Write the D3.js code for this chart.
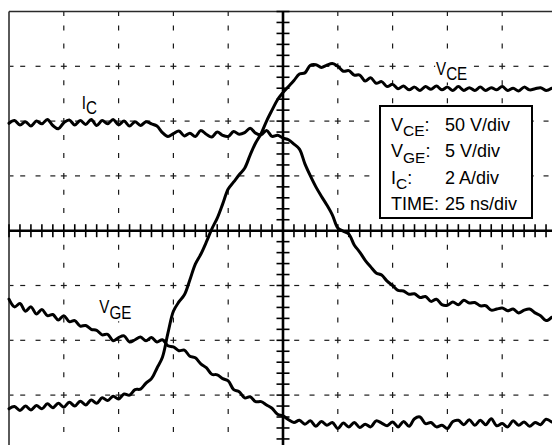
<!DOCTYPE html>
<html>
<head>
<meta charset="utf-8">
<script src="https://cdn.jsdelivr.net/npm/d3@7"></script>
<style>
  html, body { margin: 0; padding: 0; background: #fff; }
  svg { display: block; }
  text { font-family: "Liberation Sans", Arial, Helvetica, sans-serif; fill: #000; }
</style>
</head>
<body>
<svg id="chart" width="552" height="445"></svg>
<script>
// Switching waveform capture: time in ns, traces in screen divisions (centre = 0)
const timeStartNs = -125;
const timeStepNs = 2.5;

const vce = [
  -3.25, -3.21, -3.28, -3.20, -3.27, -3.19, -3.25, -3.16, -3.23, -3.15,
  -3.22, -3.13, -3.20, -3.11, -3.18, -3.09, -3.15, -3.05, -3.10, -3.02,
  -3.07, -2.98, -3.00, -2.90, -2.89, -2.78, -2.70, -2.51, -2.31, -1.87,
  -1.47, -1.30, -1.17, -0.90, -0.61, -0.43, -0.21, 0.03, 0.23, 0.49,
  0.76, 0.89, 1.02, 1.14, 1.38, 1.60, 1.77, 2.00, 2.20, 2.39,
  2.52, 2.63, 2.74, 2.86, 2.88, 3.02, 3.03, 2.98, 3.02, 3.05,
  3.00, 2.91, 2.92, 2.84, 2.84, 2.73, 2.79, 2.69, 2.72, 2.63,
  2.67, 2.59, 2.64, 2.57, 2.62, 2.56, 2.63, 2.58, 2.64, 2.57,
  2.62, 2.56, 2.63, 2.56, 2.61, 2.56, 2.62, 2.56, 2.61, 2.57,
  2.63, 2.56, 2.60, 2.55, 2.62, 2.57, 2.59, 2.61, 2.56, 2.60
];

const ic = [
  1.96, 2.01, 1.93, 1.99, 1.91, 2.00, 1.95, 2.03, 1.92, 1.86,
  1.97, 2.02, 1.93, 2.01, 1.94, 2.03, 1.92, 2.01, 1.95, 2.03,
  1.93, 2.00, 1.91, 1.99, 1.92, 1.99, 1.95, 1.91, 1.79, 1.72,
  1.77, 1.82, 1.73, 1.78, 1.72, 1.83, 1.76, 1.71, 1.80, 1.74,
  1.72, 1.81, 1.76, 1.79, 1.87, 1.78, 1.75, 1.83, 1.72, 1.74,
  1.69, 1.66, 1.58, 1.49, 1.22, 1.00, 0.80, 0.63, 0.47, 0.29,
  0.05, -0.01, -0.06, -0.26, -0.39, -0.54, -0.66, -0.77, -0.81, -0.92,
  -1.00, -1.09, -1.10, -1.16, -1.15, -1.22, -1.20, -1.29, -1.25, -1.35,
  -1.36, -1.30, -1.35, -1.27, -1.32, -1.31, -1.37, -1.37, -1.45, -1.43,
  -1.41, -1.46, -1.43, -1.50, -1.45, -1.43, -1.50, -1.55, -1.64, -1.58
];

const vge = [
  -1.25, -1.39, -1.33, -1.47, -1.39, -1.52, -1.44, -1.55, -1.53, -1.63,
  -1.55, -1.66, -1.64, -1.74, -1.73, -1.80, -1.82, -1.90, -1.89, -2.01,
  -1.95, -1.92, -2.03, -1.99, -1.94, -2.01, -1.95, -2.03, -1.99, -2.10,
  -2.12, -2.19, -2.18, -2.29, -2.32, -2.43, -2.50, -2.62, -2.63, -2.70,
  -2.74, -2.90, -2.94, -3.05, -3.03, -3.12, -3.12, -3.18, -3.24, -3.35,
  -3.38, -3.45, -3.50, -3.46, -3.53, -3.47, -3.57, -3.48, -3.55, -3.50,
  -3.61, -3.51, -3.58, -3.50, -3.59, -3.53, -3.58, -3.47, -3.51, -3.56,
  -3.49, -3.58, -3.48, -3.57, -3.43, -3.40, -3.52, -3.50, -3.58, -3.55,
  -3.61, -3.48, -3.46, -3.54, -3.45, -3.55, -3.46, -3.54, -3.43, -3.56,
  -3.52, -3.58, -3.47, -3.55, -3.49, -3.57, -3.50, -3.54, -3.44, -3.49
];

// Settings panel rows
const settingSymbols = ["V", "V", "I", "TIME"];
const settingSubs = ["CE", "GE", "C", ""];
const settingValues = ["50 V/div", "5 V/div", "2 A/div", "25 ns/div"];

// Trace names
const traceSymbols = ["I", "V", "V"];
const traceSubs = ["C", "GE", "CE"];

// Screen geometry: 10 x 8 divisions, 25 ns per division
const nsPerDiv = 25;
const svg = d3.select("#chart");
const x = d3.scaleLinear().domain([-125, 125]).range([9, 557]);
const y = d3.scaleLinear().domain([-4, 4]).range([449.9, 11.5]);

const gridColor = "#1a1a1a";
const grid = svg.append("g");

function seg(g, x1, y1, x2, y2, w, c) {
  g.append("line").attr("x1", x1).attr("y1", y1).attr("x2", x2).attr("y2", y2)
    .attr("stroke", c || gridColor).attr("stroke-width", w || 1.2);
}

// Vertical graticule lines (dashed)
const vFrac = [0.30, 0.63];
for (let k = -4; k <= 4; k++) {
  if (k === 0) continue;
  const xp = x(k * nsPerDiv);
  for (let d = 4; d > -4; d--) {
    for (const f of vFrac) {
      const yp = y(d - f);
      seg(grid, xp, yp - 2.5, xp, yp + 2.5);
    }
  }
  seg(grid, xp, y(4), xp, y(4) + 4.5);
}
// Horizontal graticule lines (dashed)
const hFrac = [0.25, 0.53, 0.80];
for (let d = -3; d <= 3; d++) {
  if (d === 0) continue;
  const yp = y(d);
  for (let k = -5; k < 5; k++) {
    for (const f of hFrac) {
      const xp = x((k + f) * nsPerDiv);
      seg(grid, xp - 2.5, yp, xp + 2.5, yp);
    }
  }
  seg(grid, x(-125), yp, x(-125) + 4.5, yp);
}
// Small crosses at graticule intersections
for (let k = -4; k <= 4; k++) {
  if (k === 0) continue;
  for (let d = -3; d <= 3; d++) {
    if (d === 0) continue;
    const xp = x(k * nsPerDiv), yp = y(d);
    seg(grid, xp - 3, yp, xp + 3, yp);
    seg(grid, xp, yp - 3, xp, yp + 3);
  }
}

// Screen border (left and top visible)
svg.append("line").attr("x1", x(-125)).attr("y1", y(4)).attr("x2", x(-125)).attr("y2", 445)
  .attr("stroke", "#5a5a5a").attr("stroke-width", 2);
svg.append("line").attr("x1", x(-125)).attr("y1", y(4)).attr("x2", 552).attr("y2", y(4))
  .attr("stroke", "#2a2a2a").attr("stroke-width", 1.6);

// Centre axes with minor ticks (5 per division)
const axes = svg.append("g");
seg(axes, x(-125), y(0), x(125), y(0), 2.6, "#000");
seg(axes, x(0), y(4), x(0), y(-4), 2.6, "#000");
for (let m = -25; m <= 25; m++) {
  const xp = x(m * nsPerDiv / 5);
  seg(axes, xp, y(0) - 6.5, xp, y(0) + 6.5, 1.6, "#000");
}
for (let m = -20; m <= 20; m++) {
  const yp = y(m / 5);
  seg(axes, x(0) - 6.5, yp, x(0) + 6.5, yp, 1.6, "#000");
}

// Traces
const line = d3.line()
  .x((d, i) => x(timeStartNs + i * timeStepNs))
  .y(d => y(d))
  .curve(d3.curveCatmullRom.alpha(0.5));

const traces = svg.append("g")
  .attr("fill", "none").attr("stroke", "#000")
  .attr("stroke-width", 3).attr("stroke-linejoin", "round").attr("stroke-linecap", "round");
[vce, ic, vge].forEach(s => traces.append("path").attr("d", line(s)));

// Trace names, condensed lettering on a white patch
const traceAnchors = [[-91.8, 2.22], [-83.8, -1.50], [69.8, 2.84]];
const traceSubShift = [5, 6, 5];
traceSymbols.forEach((sym, i) => {
  const [t, v] = traceAnchors[i];
  const g = svg.append("g").attr("transform", `translate(${x(t)},${y(v)}) scale(0.8,1)`);
  const txt = g.append("text").attr("font-size", 19);
  txt.append("tspan").text(sym);
  txt.append("tspan").attr("dy", traceSubShift[i]).text(traceSubs[i]);
  const bb = txt.node().getBBox();
  g.insert("rect", "text").attr("x", bb.x - 1).attr("y", bb.y + 2)
    .attr("width", bb.width + 2).attr("height", bb.height - 4).attr("fill", "#fff");
});

// Settings panel
const panel = svg.append("g");
panel.append("rect").attr("x", 380).attr("y", 106).attr("width", 152).attr("height", 112)
  .attr("fill", "#fff").attr("stroke", "#000").attr("stroke-width", 2);
settingSymbols.forEach((sym, i) => {
  const base = 130.8 + i * 26.5;
  const t = panel.append("text").attr("x", 391).attr("y", base).attr("font-size", 18);
  t.append("tspan").text(sym);
  if (settingSubs[i]) {
    t.append("tspan").attr("dy", 5.5).attr("font-size", 15.5).text(settingSubs[i]);
    t.append("tspan").attr("dy", -5.5).text(":");
  } else {
    t.append("tspan").text(":");
  }
  panel.append("text").attr("x", 445).attr("y", base).attr("font-size", 18).text(settingValues[i]);
});
</script>
</body>
</html>
